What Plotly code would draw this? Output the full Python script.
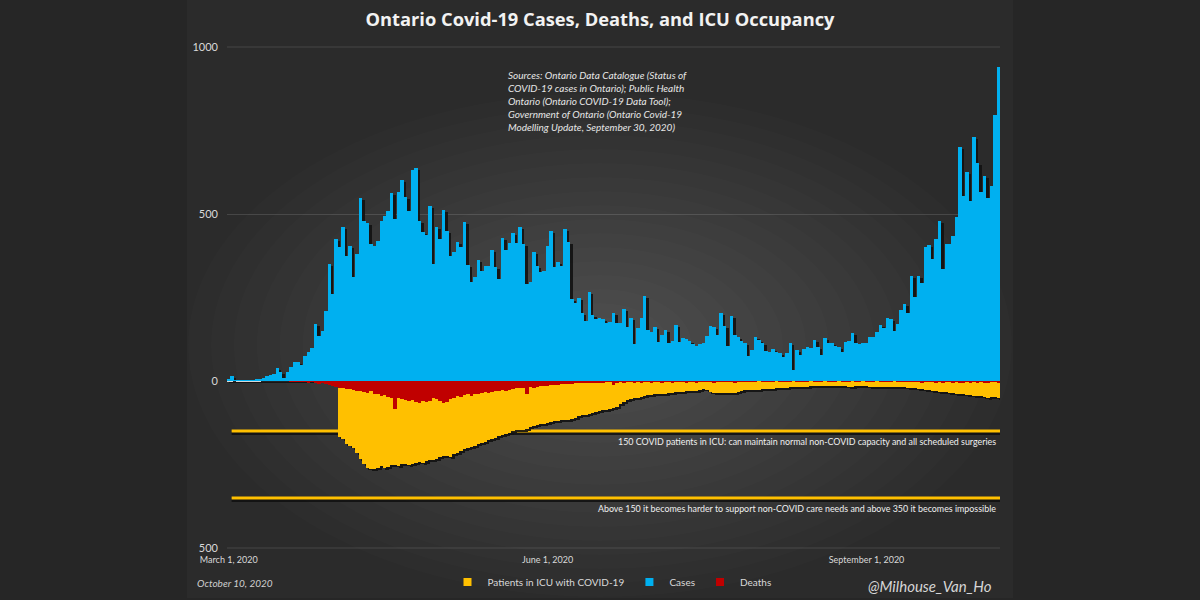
import pandas as pd
import plotly.graph_objects as go

# ---------------- data ----------------
START_DATE = "2020-03-01"
END_DATE = "2020-10-09"

CASES = [
    4, 15, 2, 2, 2, 3, 2, 2, 4, 5, 8,
    15, 18, 20, 38, 28, 10, 28, 43, 58, 58, 48, 76, 88, 98, 170, 135, 150,
    210, 350, 260, 425, 400, 460, 375, 405, 310, 380, 548, 478, 473, 410, 403,
    420, 478, 493, 510, 563, 485, 565, 603, 550, 510, 633, 638, 478,
    445, 437, 525, 350, 460, 425, 512, 450, 373, 387, 415, 402, 477, 347, 297,
    310, 362, 330, 345, 345, 392, 342, 305, 428, 392, 412, 442, 412, 460, 410,
    290, 295, 385, 345, 327, 330, 405, 448, 340, 357, 345, 455, 415, 245, 235,
    250, 203, 180, 267, 197, 187, 190, 185, 173, 177, 205, 173,
    173, 215, 163, 188, 111, 158, 188, 255, 153, 148,
    163, 118, 138, 153, 115, 120, 168, 118, 128, 125,
    120, 111, 105, 111, 113, 135, 165, 163, 138, 203,
    165, 105, 195, 138, 133, 120, 115, 75, 93, 133,
    123, 115, 90, 88, 95, 88, 83, 71, 83, 115,
    33, 93, 78, 95, 103,
    98, 123, 101, 78, 128, 113, 113, 105, 101, 88, 118, 120, 145, 113, 111, 113,
    114, 133, 132, 148, 169, 158, 190, 185, 149, 170,
    213, 232, 204, 313, 251, 315, 293, 401, 407, 365,
    425, 478, 335, 409, 409, 435, 491, 700, 554, 625,
    538, 732, 653, 566, 615, 548, 583, 797, 939,
]

ICU = [None] * 32 + [
    167, 174, 190, 196, 200, 216, 233, 247, 260, 264, 262, 260, 255, 259, 256,
    252, 250, 253, 249, 247, 250, 248, 246, 243,
    246, 241, 236, 238, 233, 228, 226, 224, 227, 220, 215, 210, 205, 201, 198,
    195, 190, 186, 182, 178, 175, 170, 166, 162, 158, 155, 150, 147, 147, 146, 145,
    137, 135, 133, 130, 128, 125, 122, 120, 119, 118, 117, 116, 114, 110, 106,
    103, 102, 99, 96, 93, 90, 88, 86, 84,
    82, 78, 70, 62, 58, 55, 52, 50, 47, 44, 42, 41, 40, 40, 39, 39, 37, 35, 33,
    32, 32, 31, 30, 29, 29, 27, 25, 28, 32, 35,
    36, 37, 37, 37, 37, 35, 32, 30, 28, 27, 27, 26, 26, 25, 25, 24, 23, 22, 22,
    21, 20, 19, 18, 17, 17, 17, 17, 16, 16, 15,
    15, 14, 14, 14, 14, 15, 15, 16, 17, 17, 16, 16, 16, 16, 17, 17, 17, 17, 18,
    17, 17, 17, 17, 18, 19, 20, 21, 22, 24, 25,
    26, 28, 29, 31, 32, 33, 34, 35, 37, 38, 39, 40, 41, 42, 44, 45, 46, 48, 50,
    49, 48, 50,
]

DEATHS = [0] * 18 + [
    1, 1, 2, 1, 3, 5, 3, 5, 8, 5, 10, 12, 15, 18,
    22, 20, 25, 25, 27, 30, 30, 33, 35, 30, 38, 40, 45, 42, 48, 50, 84, 52, 55,
    57, 60, 58, 62, 65, 60, 62, 60, 52, 55,
    60, 65, 62, 55, 50, 45, 48, 42, 40, 45, 38, 40, 35, 33, 35, 32, 30, 30, 28,
    30, 28, 25, 22, 20, 21, 38, 18, 20, 17, 15,
    14, 15, 13, 12, 11, 10, 10, 8, 9, 7, 7, 6, 6, 5, 5, 5, 4, 4, 3, 3, 12, 4, 3,
    5, 2, 3, 6, 2, 4, 3,
    2, 5, 3, 1, 4, 2, 3, 6, 2, 1, 3, 4, 2, 1, 5, 2, 3, 1, 2, 4, 1, 2, 3, 1, 2,
    5, 1, 2, 1, 3,
    2, 1, 0, 2, 1, 3, 1, 0, 2, 1, 2, 1, 0, 1, 3, 1, 2, 0, 1, 2, 1, 0, 1, 2, 1,
    0, 2, 1, 1, 0,
    1, 2, 0, 1, 1, 2, 0, 1, 2, 1, 1, 0, 2, 1, 1, 2, 1, 3, 2, 4, 1, 2, 3, 5, 1,
    4, 2, 3, 5, 2, 4, 6, 3, 4, 2, 5, 3, 4, 6, 2, 3, 4,
]

ICU_THRESHOLDS = [150, 350]
THRESHOLD_NOTES = [
    "150 COVID patients in ICU: can maintain normal non-COVID capacity and all scheduled surgeries",
    "Above 150 it becomes harder to support non-COVID care needs and above 350 it becomes impossible",
]
Y_TICKS = [1000, 500, 0, -500]
Y_TICK_TEXT = ["1000", "500", "0", "500"]
X_TICKS = ["2020-03-01", "2020-06-01", "2020-09-01"]
X_TICK_TEXT = ["March 1, 2020", "June 1, 2020", "September 1, 2020"]

TITLE = "Ontario Covid-19 Cases, Deaths, and ICU Occupancy"
SOURCES = ("Sources: Ontario Data Catalogue (Status of<br>COVID-19 cases in Ontario); Public Health<br>"
           "Ontario (Ontario COVID-19 Data Tool);<br>Government of Ontario (Ontario Covid-19<br>"
           "Modelling Update, September 30, 2020)")
DATE_NOTE = "October 10, 2020"
HANDLE = "@Milhouse_Van_Ho"

DATES = pd.date_range(START_DATE, END_DATE, freq="D")
ICU_NEG = [None if v is None else -v for v in ICU]
DEATHS_NEG = [-v for v in DEATHS]

# ---------------- styling ----------------
C_CASES = "#00B0F0"
C_ICU = "#FFC000"
C_DEATHS = "#C00000"
C_SHADOW = "rgba(18,18,18,0.9)"
C_GRID = "rgba(255,255,255,0.13)"
TXT = "#d9d9d9"
FONT = "Lato"

W, H = 1200, 600
Y_RANGE = [-503, 1003]
L, R, T, B = 227, 200, 46, 51
PW, PH = W - L - R, H - T - B


def px_x(px):
    return (px - L) / PW


def px_y(py):
    return (H - B - py) / PH


DAY_MS = 86400000

fig = go.Figure()

# shadows (drawn first, under the bars)
shadow_kw = dict(marker=dict(color=C_SHADOW, line=dict(width=0)), width=DAY_MS,
                 offset=int(-0.5 * DAY_MS + 0.7 * DAY_MS), base=-6,
                 showlegend=False, hoverinfo="skip")
fig.add_trace(go.Bar(x=DATES, y=CASES, **shadow_kw))
fig.add_trace(go.Bar(x=DATES, y=ICU_NEG, **shadow_kw))

bar_kw = dict(width=DAY_MS, showlegend=False, hoverinfo="skip")
fig.add_trace(go.Bar(x=DATES, y=ICU_NEG, marker=dict(color=C_ICU, line=dict(width=0)), **bar_kw))
fig.add_trace(go.Bar(x=DATES, y=CASES, marker=dict(color=C_CASES, line=dict(width=0)), **bar_kw))
fig.add_trace(go.Bar(x=DATES, y=DEATHS_NEG, marker=dict(color=C_DEATHS, line=dict(width=0)), **bar_kw))

# legend proxies
for name, col in [("Patients in ICU with COVID-19", C_ICU), ("Cases", C_CASES), ("Deaths", C_DEATHS)]:
    fig.add_trace(go.Scatter(x=[None], y=[None], mode="markers", name=name,
                             marker=dict(symbol="square", size=8, color=col)))

shapes = []
# panel with radial-ish gradient
shapes.append(dict(type="rect", xref="paper", yref="paper", x0=px_x(187), x1=px_x(1013),
                   y0=px_y(598), y1=px_y(0), fillcolor="#2b2b2b", line=dict(width=0), layer="below"))
N = 18
cx, cy, rx, ry = 600, 345, 412, 252
for k in range(N):
    s = 1 - k / N
    shapes.append(dict(type="circle", xref="paper", yref="paper",
                       x0=px_x(cx - rx * s), x1=px_x(cx + rx * s),
                       y0=px_y(cy + ry * s), y1=px_y(cy - ry * s),
                       fillcolor="rgba(255,255,255,0.010)", line=dict(width=0), layer="below"))
# edge gridlines (plotly hides gridlines on the plot edge)
for yv in (Y_TICKS[0], Y_TICKS[-1]):
    shapes.append(dict(type="line", xref="x domain", yref="y", x0=0, x1=1, y0=yv, y1=yv,
                       line=dict(color=C_GRID, width=1), layer="below"))
# threshold lines with shadow
for th in ICU_THRESHOLDS:
    shapes.append(dict(type="line", xref="x domain", yref="y", x0=0.006, x1=1.0,
                       ysizemode="pixel", yanchor=-th, y0=-2.5, y1=-2.5,
                       line=dict(color="rgba(15,15,15,0.85)", width=3), layer="below"))
    shapes.append(dict(type="line", xref="x domain", yref="y", x0=0.006, x1=1.0,
                       y0=-th, y1=-th, line=dict(color=C_ICU, width=3), layer="below"))

annotations = []
for th, note in zip(ICU_THRESHOLDS, THRESHOLD_NOTES):
    annotations.append(dict(xref="x domain", yref="y", x=0.998, y=-th, xanchor="right",
                            yanchor="top", yshift=-3, text=note, showarrow=False,
                            font=dict(family=FONT, size=8.9, color="#f0f0f0")))
annotations.append(dict(xref="paper", yref="paper", x=px_x(506), y=px_y(67), xanchor="left",
                        yanchor="top", align="left", text="<i>" + SOURCES.replace("<br>", "</i><br><i>") + "</i>",
                        showarrow=False, font=dict(family=FONT, size=10, color="#e6e6e6")))
annotations.append(dict(xref="paper", yref="paper", x=px_x(195), y=px_y(583), xanchor="left",
                        yanchor="middle", text="<i>" + DATE_NOTE + "</i>", showarrow=False,
                        font=dict(family=FONT, size=10, color="#cfcfcf")))
annotations.append(dict(xref="paper", yref="paper", x=px_x(994), y=px_y(586), xanchor="right",
                        yanchor="middle", text="<i>" + HANDLE + "</i>", showarrow=False,
                        font=dict(family=FONT, size=15, color="#d6d6d6")))

fig.update_layout(
    width=W, height=H,
    margin=dict(l=L, r=R, t=T, b=B, autoexpand=False),
    paper_bgcolor="#262626",
    plot_bgcolor="rgba(0,0,0,0)",
    barmode="overlay",
    bargap=0,
    title=dict(text="<b>" + TITLE + "</b>", x=0.5, xanchor="center", y=1 - 20 / H, yanchor="middle",
               font=dict(family="Open Sans", size=18.3, color="#f2f2f2")),
    showlegend=True,
    legend=dict(orientation="h", x=px_x(612), xanchor="center", y=px_y(582), yanchor="middle",
                bgcolor="rgba(0,0,0,0)", font=dict(family=FONT, size=10, color=TXT),
                itemwidth=30, traceorder="normal"),
    shapes=shapes,
    annotations=annotations,
    xaxis=dict(type="date", range=[DATES[0] - pd.Timedelta(hours=12), DATES[-1] + pd.Timedelta(hours=12)],
               tickvals=X_TICKS, ticktext=X_TICK_TEXT, showgrid=False, zeroline=False,
               showline=False, ticks="", tickfont=dict(family=FONT, size=9, color=TXT),
               ticklabelstandoff=4, fixedrange=True),
    yaxis=dict(range=Y_RANGE, tickvals=Y_TICKS, ticktext=Y_TICK_TEXT, showgrid=True,
               gridcolor=C_GRID, gridwidth=1, zeroline=True,
               zerolinecolor="#d8d8d8", zerolinewidth=1.5, showline=False, ticks="",
               tickfont=dict(family=FONT, size=11, color=TXT), ticklabelstandoff=8,
               fixedrange=True),
    hovermode=False,
)

fig.write_html("out.html", config={"displayModeBar": False})
with open("out.html", "r", encoding="utf-8") as f:
    html = f.read()
html = html.replace("<head>", "<head><style>html,body{margin:0;padding:0;overflow:hidden;background:#262626}</style>", 1)
with open("out.html", "w", encoding="utf-8") as f:
    f.write(html)
